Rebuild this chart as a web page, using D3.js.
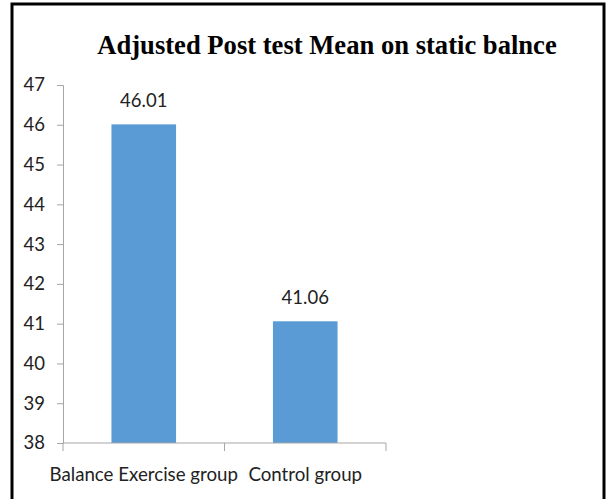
<!DOCTYPE html>
<html>
<head>
<meta charset="utf-8">
<script src="https://cdn.jsdelivr.net/npm/d3@7/dist/d3.min.js"></script>
<style>
  html, body { margin: 0; padding: 0; background: #fff; }
  svg { display: block; }
</style>
</head>
<body>
<svg id="chart" width="608" height="499"></svg>
<script>
const title = "Adjusted Post test Mean on static balnce";
const categories = ["Balance Exercise group", "Control group"];
const values = [46.01, 41.06];
const valueLabels = ["46.01", "41.06"];
const yTicks = [38, 39, 40, 41, 42, 43, 44, 45, 46, 47];

const svg = d3.select("#chart");
const W = 608, H = 499;

// outer border (left, top, right)
svg.append("path")
  .attr("d", `M12,${H + 2} L12,4 L604,4 L604,${H + 2}`)
  .attr("fill", "none")
  .attr("stroke", "#000")
  .attr("stroke-width", 3);

// title
svg.append("text")
  .attr("x", 327).attr("y", 54)
  .attr("text-anchor", "middle")
  .attr("font-family", "'Liberation Serif', 'Times New Roman', serif")
  .attr("font-weight", "bold")
  .attr("font-size", 26.6)
  .attr("fill", "#000")
  .text(title);

const x0 = 63, x1 = 386, yTop = 85, yBot = 443;
const y = d3.scaleLinear().domain([38, 47]).range([yBot, yTop]);
const x = d3.scaleBand().domain(categories).range([x0, x1]).paddingInner(0).paddingOuter(0);
const barW = x.bandwidth() * 0.4;

const font = "Lato, 'Open Sans', sans-serif";
const axisColor = "#a6a6a6";
const textColor = "#222";

// y axis
const yAxis = d3.axisLeft(y).tickValues(yTicks).tickSize(6).tickPadding(12).tickFormat(d3.format("d"));
const gy = svg.append("g").attr("transform", `translate(${x0},0)`).call(yAxis);
gy.select(".domain").attr("stroke", axisColor);
gy.selectAll(".tick line").attr("stroke", axisColor);
gy.selectAll(".tick text").attr("font-family", font).attr("font-size", 18.5).attr("fill", textColor);

// bars
svg.selectAll("rect.bar").data(values).enter().append("rect")
  .attr("class", "bar")
  .attr("x", (d, i) => x(categories[i]) + (x.bandwidth() - barW) / 2)
  .attr("y", d => y(d))
  .attr("width", barW)
  .attr("height", d => y(38) - y(d))
  .attr("fill", "#5b9bd5");

// x axis
const xAxis = d3.axisBottom(x).tickSize(0).tickPadding(0).tickFormat("");
const gx = svg.append("g").attr("transform", `translate(0,${yBot})`).call(xAxis);
gx.select(".domain").attr("stroke", axisColor).attr("d", `M${x0},0H${x1}`);
// category boundary ticks
const bounds = [x0].concat(categories.map(c => x(c) + x.bandwidth()));
gx.selectAll("line.bt").data(bounds).enter().append("line")
  .attr("class", "bt")
  .attr("x1", d => d).attr("x2", d => d)
  .attr("y1", 0).attr("y2", 8)
  .attr("stroke", axisColor);

// category labels
svg.selectAll("text.cat").data(categories).enter().append("text")
  .attr("class", "cat")
  .attr("x", d => x(d) + x.bandwidth() / 2)
  .attr("y", 481)
  .attr("text-anchor", "middle")
  .attr("font-family", font).attr("font-size", 18.7).attr("fill", textColor)
  .text(d => d);

// value labels
svg.selectAll("text.val").data(values).enter().append("text")
  .attr("class", "val")
  .attr("x", (d, i) => x(categories[i]) + x.bandwidth() / 2)
  .attr("y", d => y(d) - 17)
  .attr("text-anchor", "middle")
  .attr("font-family", font).attr("font-size", 18.5).attr("fill", textColor)
  .text((d, i) => valueLabels[i]);
</script>
</body>
</html>
